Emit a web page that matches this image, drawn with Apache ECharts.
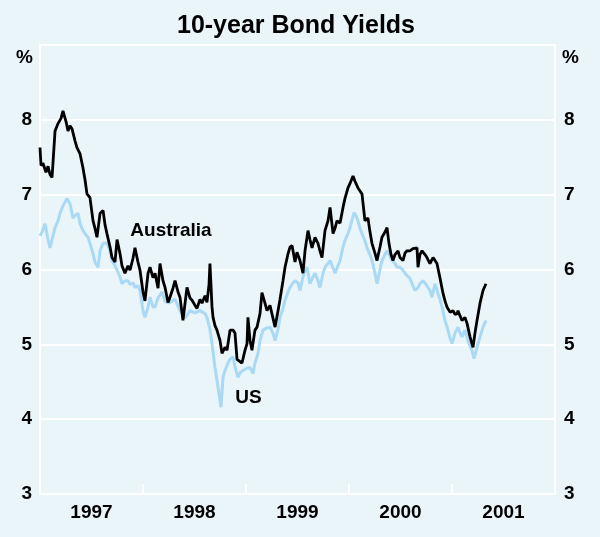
<!DOCTYPE html>
<html>
<head>
<meta charset="utf-8">
<script src="https://cdn.jsdelivr.net/npm/echarts@6/dist/echarts.min.js"></script>
<style>
html,body{margin:0;padding:0;background:#E9F5F9;}
#chart{width:600px;height:537px;}
</style>
</head>
<body>
<div id="chart"></div>
<script>
// Year labels for the x axis (each label spans one calendar year)
var yearLabels = ['1997', '1998', '1999', '2000', '2001'];
var yTicks = [3, 4, 5, 6, 7, 8];

// Time offsets (years since 1 Jan 1997) and yields, Australia
var ausT = [
0.000,0.010,0.029,0.058,0.078,0.097,0.117,0.146,0.175,0.204,
0.223,0.252,0.272,0.291,0.311,0.340,0.359,0.388,0.417,0.437,
0.456,0.485,0.515,0.534,0.553,0.583,0.612,0.631,0.650,0.680,
0.699,0.728,0.748,0.777,0.796,0.825,0.854,0.874,0.903,0.922,
0.951,0.971,1.000,1.019,1.049,1.068,1.097,1.117,1.146,1.165,
1.194,1.214,1.243,1.262,1.291,1.311,1.340,1.359,1.388,1.427,
1.456,1.476,1.505,1.524,1.553,1.573,1.602,1.621,1.641,1.650,
1.670,1.680,1.699,1.718,1.748,1.767,1.796,1.816,1.845,1.874,
1.893,1.913,1.932,1.961,1.990,2.010,2.019,2.039,2.058,2.087,
2.107,2.136,2.155,2.184,2.204,2.233,2.252,2.282,2.311,2.330,
2.359,2.379,2.408,2.427,2.447,2.476,2.495,2.524,2.553,2.573,
2.602,2.621,2.641,2.670,2.699,2.718,2.738,2.767,2.796,2.816,
2.845,2.864,2.883,2.913,2.942,2.961,2.990,3.010,3.039,3.058,
3.087,3.107,3.126,3.155,3.184,3.204,3.223,3.252,3.272,3.301,
3.320,3.350,3.369,3.388,3.408,3.427,3.447,3.476,3.495,3.524,
3.544,3.563,3.592,3.621,3.660,3.670,3.689,3.709,3.738,3.757,
3.786,3.816,3.835,3.854,3.883,3.913,3.932,3.951,3.981,4.010,
4.029,4.049,4.058,4.078,4.097,4.126,4.146,4.175,4.204,4.223,
4.243,4.272,4.301,4.330];
var ausV = [
7.63,7.39,7.42,7.30,7.38,7.27,7.23,7.85,7.95,8.02,
8.12,7.98,7.85,7.92,7.88,7.72,7.63,7.55,7.36,7.20,
7.01,6.96,6.65,6.55,6.43,6.75,6.79,6.60,6.48,6.30,
6.16,6.10,6.40,6.21,6.05,5.95,6.05,5.99,6.15,6.29,
6.10,5.99,5.70,5.58,5.95,6.03,5.89,5.95,5.75,6.08,
5.85,5.76,5.56,5.63,5.75,5.85,5.70,5.63,5.32,5.76,
5.62,5.59,5.52,5.48,5.60,5.55,5.65,5.56,5.80,6.08,
5.50,5.36,5.25,5.19,5.05,4.88,4.96,4.92,5.19,5.19,
5.15,4.80,4.78,4.75,4.92,5.01,5.36,5.05,4.92,5.19,
5.23,5.41,5.69,5.55,5.45,5.52,5.50,5.23,5.45,5.60,
5.85,6.03,6.21,6.30,6.32,6.10,6.23,6.12,5.95,6.25,
6.52,6.40,6.29,6.43,6.35,6.25,6.16,6.52,6.65,6.83,
6.48,6.55,6.65,6.62,6.83,6.95,7.09,7.15,7.25,7.18,
7.09,7.05,7.01,6.65,6.69,6.50,6.35,6.22,6.12,6.30,
6.43,6.50,6.56,6.35,6.20,6.12,6.20,6.25,6.16,6.12,
6.22,6.25,6.25,6.28,6.29,6.03,6.20,6.25,6.20,6.16,
6.08,6.16,6.12,6.08,5.89,5.68,5.58,5.50,5.43,5.45,
5.40,5.41,5.45,5.38,5.32,5.36,5.28,5.10,4.96,5.15,
5.32,5.55,5.72,5.81];

// Time offsets (years since 1 Jan 1997) and yields, US
var usT = [
0.000,0.019,0.049,0.078,0.097,0.126,0.146,0.175,0.194,0.223,
0.243,0.262,0.291,0.320,0.340,0.369,0.388,0.417,0.437,0.466,
0.485,0.515,0.534,0.563,0.583,0.612,0.650,0.680,0.699,0.728,
0.748,0.777,0.796,0.825,0.854,0.874,0.903,0.922,0.951,0.971,
1.000,1.019,1.049,1.068,1.097,1.117,1.146,1.184,1.214,1.243,
1.262,1.311,1.359,1.408,1.456,1.505,1.553,1.602,1.621,1.650,
1.670,1.699,1.728,1.757,1.777,1.796,1.825,1.845,1.874,1.893,
1.922,1.942,1.971,2.010,2.039,2.068,2.087,2.117,2.136,2.165,
2.204,2.233,2.262,2.282,2.311,2.330,2.359,2.379,2.408,2.427,
2.456,2.476,2.505,2.524,2.553,2.573,2.592,2.621,2.650,2.670,
2.699,2.718,2.748,2.767,2.796,2.816,2.845,2.864,2.893,2.913,
2.942,2.961,2.990,3.010,3.049,3.068,3.087,3.107,3.126,3.155,
3.175,3.204,3.223,3.252,3.272,3.301,3.320,3.350,3.369,3.398,
3.417,3.447,3.466,3.495,3.524,3.544,3.563,3.592,3.621,3.641,
3.670,3.689,3.718,3.738,3.767,3.786,3.806,3.835,3.864,3.883,
3.903,3.932,3.961,3.981,4.000,4.029,4.058,4.078,4.097,4.126,
4.155,4.175,4.194,4.214,4.243,4.272,4.301,4.330];
var usV = [
6.45,6.50,6.61,6.40,6.29,6.45,6.56,6.65,6.75,6.85,
6.90,6.95,6.88,6.69,6.72,6.75,6.62,6.52,6.48,6.43,
6.35,6.21,6.10,6.03,6.25,6.35,6.35,6.25,6.12,6.05,
5.99,5.90,5.81,5.85,5.85,5.80,5.82,5.76,5.78,5.72,
5.45,5.36,5.50,5.63,5.50,5.50,5.62,5.70,5.58,5.55,
5.55,5.60,5.45,5.35,5.45,5.42,5.45,5.41,5.36,5.20,
5.01,4.69,4.43,4.16,4.56,4.65,4.75,4.80,4.83,4.70,
4.56,4.62,4.65,4.68,4.69,4.61,4.75,4.88,5.05,5.19,
5.22,5.23,5.15,5.05,5.20,5.36,5.48,5.59,5.70,5.76,
5.82,5.85,5.82,5.72,5.90,5.99,6.03,5.81,5.90,5.95,
5.85,5.76,5.95,6.03,6.08,6.12,6.02,5.95,6.05,6.12,
6.30,6.39,6.48,6.56,6.76,6.72,6.65,6.55,6.48,6.38,
6.29,6.20,6.12,5.95,5.81,6.00,6.12,6.20,6.25,6.18,
6.12,6.08,6.03,6.03,5.99,5.95,5.92,5.88,5.78,5.72,
5.76,5.81,5.85,5.82,5.76,5.72,5.63,5.81,5.68,5.60,
5.50,5.32,5.19,5.08,5.01,5.15,5.23,5.15,5.10,5.19,
5.05,4.98,4.92,4.81,4.96,5.10,5.23,5.32];

var START = 1997;
function pairs(t, v) { return t.map(function (x, i) { return [START + x, v[i]]; }); }

var FONT = '"Liberation Sans", Arial, Helvetica, sans-serif';
var chart = echarts.init(document.getElementById('chart'), null, {renderer: 'canvas'});

var yAxisCommon = {
  type: 'value', min: 3, max: 9, interval: 1,
  axisLine: {show: true, lineStyle: {color: '#ffffff', width: 2}},
  axisTick: {show: false},
  splitLine: {show: true, lineStyle: {color: '#ffffff', width: 2}},
  axisLabel: {
    color: '#000', fontSize: 19, fontWeight: 'bold', fontFamily: FONT,
    formatter: function (v) { return yTicks.indexOf(v) >= 0 ? String(v) : ''; }
  }
};

chart.setOption({
  animation: false,
  backgroundColor: '#E9F5F9',
  title: {
    text: '10-year Bond Yields', left: 291, top: 9, textAlign: 'center',
    textStyle: {fontSize: 25, fontWeight: 'bold', color: '#000', fontFamily: FONT}
  },
  grid: {left: 40, right: 45, top: 45, bottom: 43, containLabel: false},
  xAxis: [
    {
      type: 'category', data: yearLabels, boundaryGap: true, position: 'bottom',
      axisLine: {show: true, lineStyle: {color: '#ffffff', width: 2}},
      axisTick: {show: true, inside: true, length: 10, lineStyle: {color: '#ffffff', width: 2}},
      axisLabel: {color: '#000', fontSize: 19, fontWeight: 'bold', fontFamily: FONT, margin: 9},
      splitLine: {show: false}
    },
    {type: 'value', min: 1997, max: 2002, show: false}
  ],
  yAxis: [
    Object.assign({}, yAxisCommon, {position: 'left', axisLabel: Object.assign({}, yAxisCommon.axisLabel, {margin: 8})}),
    Object.assign({}, yAxisCommon, {position: 'right', splitLine: {show: false}, axisLabel: Object.assign({}, yAxisCommon.axisLabel, {margin: 9})})
  ],
  graphic: [
    {type: 'text', left: 16, top: 48, style: {text: '%', font: 'bold 19px ' + FONT, fill: '#000'}},
    {type: 'text', left: 562, top: 48, style: {text: '%', font: 'bold 19px ' + FONT, fill: '#000'}}
  ],
  series: [
    {
      name: 'US', type: 'line', xAxisIndex: 1, yAxisIndex: 0,
      data: pairs(usT, usV), showSymbol: false, symbol: 'none',
      lineStyle: {color: '#A9D9F4', width: 3}, z: 2,
      markPoint: {
        symbol: 'circle', symbolSize: 0, silent: true,
        label: {show: true, position: 'inside', formatter: 'US', color: '#000',
                fontSize: 19, fontWeight: 'bold', fontFamily: FONT},
        data: [{coord: [1999.024, 4.28]}]
      }
    },
    {
      name: 'Australia', type: 'line', xAxisIndex: 1, yAxisIndex: 0,
      data: pairs(ausT, ausV), showSymbol: false, symbol: 'none',
      lineStyle: {color: '#000000', width: 2.8}, z: 3,
      markPoint: {
        symbol: 'circle', symbolSize: 0, silent: true,
        label: {show: true, position: 'inside', formatter: 'Australia', color: '#000',
                fontSize: 19, fontWeight: 'bold', fontFamily: FONT},
        data: [{coord: [1998.272, 6.52]}]
      }
    }
  ]
});
</script>
</body>
</html>
